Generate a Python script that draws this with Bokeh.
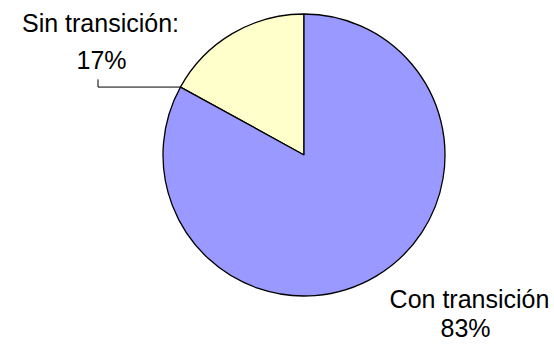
import math
from bokeh.plotting import figure
from bokeh.models import Range1d, ColumnDataSource
from bokeh.core.properties import value
from bokeh.embed import file_html
from bokeh.resources import INLINE

# Data
categories = ["Sin transición", "Con transición"]
percents = [17, 83]
colors = ["#FFFFCC", "#9999FF"]

W, H = 554, 344
p = figure(width=W, height=H, output_backend="svg", toolbar_location=None,
           x_range=Range1d(0, W), y_range=Range1d(0, H), min_border=0)
p.axis.visible = False
p.grid.visible = False
p.outline_line_color = None
p.background_fill_color = "white"

cx, cy, r = 303.5, H - 154.5, 141

# angles: start at 12 o'clock, "Sin" goes counterclockwise, "Con" fills the rest
total = sum(percents)
starts, ends = [], []
a = math.pi / 2
for v in percents:
    starts.append(a)
    a += 2 * math.pi * v / total
    ends.append(a)

src = ColumnDataSource(dict(x=[cx] * 2, y=[cy] * 2, start=starts, end=ends,
                            color=colors, cat=categories))
p.wedge(x="x", y="y", radius=r, start_angle="start", end_angle="end",
        direction="anticlock", fill_color="color", line_color="black",
        line_width=1.3, source=src)

# leader line for the small slice
edge = ends[0]
ex, ey = cx + r * math.cos(edge), cy + r * math.sin(edge)
lx = 97.5
p.line([ex, lx, lx], [ey, ey, ey + 7.7], line_color="black", line_width=1)

font = value("Liberation Sans")
fs = "25px"
dy = 10.5  # compensation for renderer baseline offset
labels_line1 = [categories[0] + ":", categories[1]]
labels_line2 = [f"{percents[0]}%", f"{percents[1]}%"]
p.text(x=[100, 469], y=[H - 33.3 + dy, H - 309.3 + dy], text=labels_line1,
       text_font=font, text_font_size=fs, text_align="center",
       text_baseline="alphabetic", text_color="black")
p.text(x=[101, 465], y=[H - 70 + dy, H - 338 + dy], text=labels_line2,
       text_font=font, text_font_size=fs, text_align="center",
       text_baseline="alphabetic", text_color="black")

open("out.html", "w").write(file_html(p, INLINE))
